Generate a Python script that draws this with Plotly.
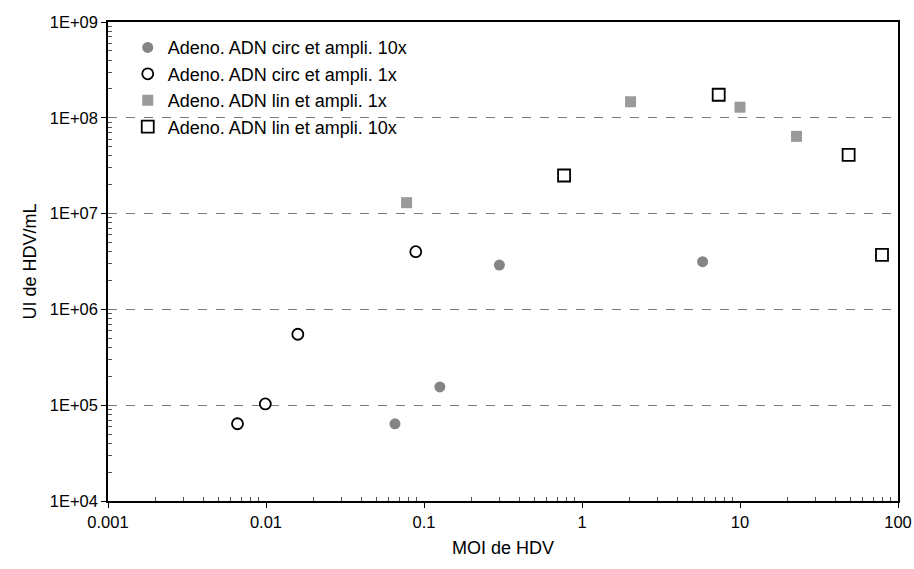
import plotly.graph_objects as go

# Data
circ10_x = [0.0655, 0.126, 0.30, 5.8]
circ10_y = [6.4e4, 1.55e5, 2.9e6, 3.15e6]
circ1_x = [0.0066, 0.0099, 0.0159, 0.0887]
circ1_y = [6.4e4, 1.03e5, 5.5e5, 4.0e6]
lin1_x = [0.0776, 2.03, 10.0, 22.8]
lin1_y = [1.3e7, 1.47e8, 1.29e8, 6.4e7]
lin10_x = [0.77, 7.33, 48.7, 79.2]
lin10_y = [2.5e7, 1.74e8, 4.1e7, 3.7e6]

names = ["Adeno. ADN circ et ampli. 10x", "Adeno. ADN circ et ampli. 1x",
         "Adeno. ADN lin et ampli. 1x", "Adeno. ADN lin et ampli. 10x"]

x_tickvals = [0.001, 0.01, 0.1, 1, 10, 100]
x_ticktext = ["0.001", "0.01", "0.1", "1", "10", "100"]
y_tickvals = [1e4, 1e5, 1e6, 1e7, 1e8, 1e9]
y_ticktext = ["1E+04", "1E+05", "1E+06", "1E+07", "1E+08", "1E+09"]
minor_mults = [2, 3, 4, 5, 6, 7, 8, 9]
x_minor = [m * d for d in x_tickvals[:-1] for m in minor_mults]
y_minor = [m * d for d in y_tickvals[:-1] for m in minor_mults]

FONT = "Arial, Liberation Sans, sans-serif"

fig = go.Figure()
fig.add_trace(go.Scatter(x=circ10_x, y=circ10_y, mode="markers", name=names[0],
                         marker=dict(symbol="circle", size=11, color="#858585",
                                     line=dict(width=0))))
fig.add_trace(go.Scatter(x=circ1_x, y=circ1_y, mode="markers", name=names[1],
                         marker=dict(symbol="circle-open", size=11, color="black",
                                     line=dict(width=1.8, color="black"))))
fig.add_trace(go.Scatter(x=lin1_x, y=lin1_y, mode="markers", name=names[2],
                         marker=dict(symbol="square", size=11, color="#9a9a9a",
                                     line=dict(width=0))))
fig.add_trace(go.Scatter(x=lin10_x, y=lin10_y, mode="markers", name=names[3],
                         marker=dict(symbol="square-open", size=12, color="black",
                                     line=dict(width=1.8, color="black"))))

fig.update_layout(
    width=914, height=569,
    margin=dict(l=108, r=16, t=22, b=68),
    paper_bgcolor="white", plot_bgcolor="white",
    font=dict(family=FONT, size=17, color="black"),
    legend=dict(x=0.025, y=0.985, xanchor="left", yanchor="top",
                font=dict(size=18, family=FONT), bgcolor="rgba(255,255,255,0)",
                itemwidth=30),
    showlegend=True,
)
fig.update_xaxes(type="log", range=[-3, 2], tickvals=x_tickvals, ticktext=x_ticktext,
                 showline=True, linecolor="black", linewidth=1.5, mirror=True,
                 ticks="outside", ticklen=5, tickcolor="black", showgrid=False, zeroline=False,
                 tickfont=dict(size=16.5), automargin=False,
                 title=dict(text="MOI de HDV", font=dict(size=18), standoff=12),
                 minor=dict(tickvals=x_minor, ticks="inside", ticklen=4,
                            tickcolor="#555", showgrid=False))
fig.update_yaxes(type="log", range=[4, 9], tickvals=y_tickvals, ticktext=y_ticktext,
                 showline=True, linecolor="black", linewidth=1.5, mirror=True,
                 ticks="outside", ticklen=5, tickcolor="black",
                 showgrid=True, gridcolor="#7a7a7a", griddash="dash", gridwidth=1,
                 zeroline=False, tickfont=dict(size=16.5), automargin=False,
                 title=dict(text="UI de HDV/mL", font=dict(size=18), standoff=8),
                 minor=dict(tickvals=y_minor, ticks="inside", ticklen=4,
                            tickcolor="#555", showgrid=False))

fig.write_html("out.html")
